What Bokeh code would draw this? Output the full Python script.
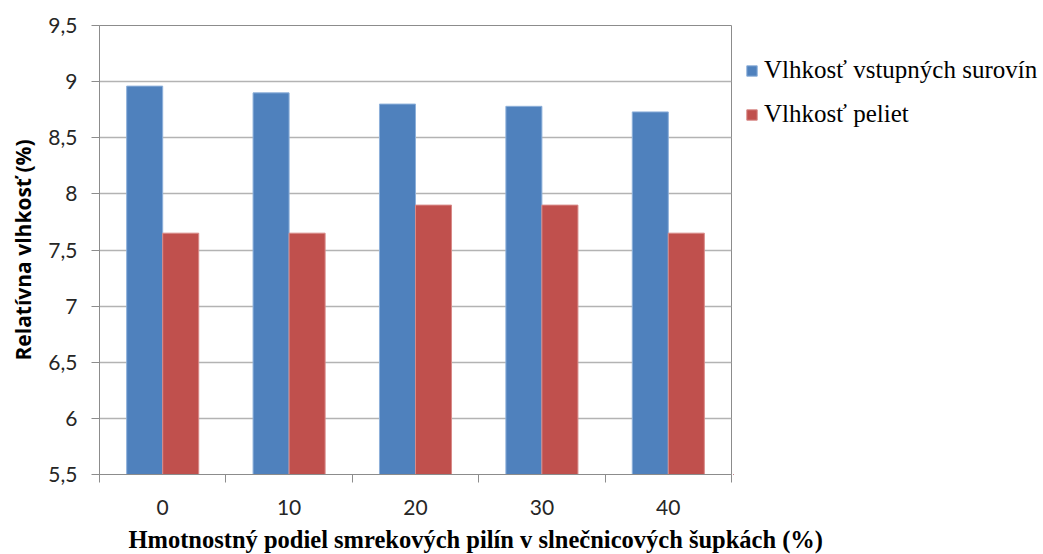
from bokeh.plotting import figure
from bokeh.layouts import row, column
from bokeh.models import (ColumnDataSource, FixedTicker, CustomJSTickFormatter,
                          Legend, LegendItem, Range1d, Label)
from bokeh.embed import file_html
from bokeh.resources import INLINE

# Sawdust share in sunflower husks (%)
categories = ["0", "10", "20", "30", "40"]
# Moisture of input raw materials (%)
moisture_raw = [8.96, 8.90, 8.80, 8.78, 8.73]
# Moisture of pellets (%)
moisture_pellets = [7.65, 7.65, 7.90, 7.90, 7.65]
y_ticks = [5.5, 6.0, 6.5, 7.0, 7.5, 8.0, 8.5, 9.0, 9.5]
series_names = ["Vlhkosť vstupných surovín", "Vlhkosť peliet"]
x_title_text = "Hmotnostný podiel smrekových pilín v slnečnicových šupkách (%)"
y_title_text = "Relatívna vlhkosť (%)"

BLUE = "#4F81BD"
RED = "#C0504D"
BLUE_EDGE = "#8DB0DA"
RED_EDGE = "#D88A88"
GRID = "#B3B3B3"
AXIS = "#8C8C8C"

TOP, BOTTOM = 25, 50  # shared borders so the row keeps both frames aligned
ROW_H = 524

idx = list(range(len(categories)))
bar_w = 0.285
src = ColumnDataSource(dict(
    x_raw=[i - bar_w / 2 for i in idx],
    x_pel=[i + bar_w / 2 for i in idx],
    raw=moisture_raw,
    pel=moisture_pellets,
))
bar_raw = dict(x="x_raw", top="raw", bottom=y_ticks[0], width=bar_w, source=src,
               fill_color=BLUE, line_color=BLUE_EDGE, line_width=1)
bar_pel = dict(x="x_pel", top="pel", bottom=y_ticks[0], width=bar_w, source=src,
               fill_color=RED, line_color=RED_EDGE, line_width=1)

# ---- main chart -------------------------------------------------------------
p = figure(width=733, height=ROW_H, output_backend="svg", toolbar_location=None,
           x_range=Range1d(-0.5, len(categories) - 0.5),
           y_range=Range1d(y_ticks[0], y_ticks[-1]),
           min_border_left=99, min_border_right=2,
           min_border_top=TOP, min_border_bottom=BOTTOM)
p.background_fill_color = "white"
p.border_fill_color = "white"
p.outline_line_color = AXIS
p.outline_line_width = 1

p.vbar(**bar_raw)
p.vbar(**bar_pel)

# y axis
p.yaxis.ticker = FixedTicker(ticks=y_ticks)
p.yaxis.formatter = CustomJSTickFormatter(code="return tick.toString().replace('.', ',');")
p.yaxis.axis_line_color = AXIS
p.yaxis.major_tick_line_color = AXIS
p.yaxis.major_tick_out = 8
p.yaxis.major_tick_in = 0
p.yaxis.minor_tick_line_color = None
p.yaxis.major_label_text_font = "Lato"
p.yaxis.major_label_text_font_size = "21px"
p.yaxis.major_label_text_color = "#262626"
p.yaxis.major_label_standoff = 14
p.yaxis.axis_label = y_title_text
p.yaxis.axis_label_text_font = "Open Sans"
p.yaxis.axis_label_text_font_style = "bold"
p.yaxis.axis_label_text_font_size = "21px"
p.yaxis.axis_label_text_color = "black"
p.yaxis.axis_label_standoff = 8

# x axis: labels at category centres, ticks between categories
p.xaxis.ticker = FixedTicker(ticks=idx, minor_ticks=[i - 0.5 for i in idx] + [idx[-1] + 0.5])
p.xaxis.major_label_overrides = {i: c for i, c in zip(idx, categories)}
p.xaxis.axis_line_color = AXIS
p.xaxis.major_tick_line_color = None
p.xaxis.minor_tick_line_color = AXIS
p.xaxis.minor_tick_out = 8
p.xaxis.minor_tick_in = 0
p.xaxis.major_label_text_font = "Lato"
p.xaxis.major_label_text_font_size = "21px"
p.xaxis.major_label_text_color = "#262626"
p.xaxis.major_label_standoff = 17

p.xgrid.grid_line_color = None
p.ygrid.grid_line_color = GRID
p.ygrid.grid_line_width = 1.5

# ---- legend panel right of the chart ---------------------------------------
# the same bar renderers are repeated here, far outside this panel's visible
# ranges, so that the legend can draw its colour swatches from them
lg = figure(width=310, height=ROW_H, output_backend="svg", toolbar_location=None,
            x_axis_type=None, y_axis_type=None,
            x_range=Range1d(100, 101), y_range=Range1d(100, 101),
            min_border_left=0, min_border_right=0,
            min_border_top=TOP, min_border_bottom=BOTTOM)
lg.outline_line_color = None
lg.background_fill_color = "white"
lg.border_fill_color = "white"
sw_raw = lg.vbar(**bar_raw)
sw_pel = lg.vbar(**bar_pel)

# bottom-left corner of the legend box, in pixels from the frame's bottom-left
legend = Legend(items=[
    LegendItem(label=series_names[0], renderers=[sw_raw]),
    LegendItem(label=series_names[1], renderers=[sw_pel]),
], location=(12, 345))
legend.label_text_font = "Liberation Serif"
legend.label_text_font_size = "25px"
legend.label_text_color = "black"
legend.glyph_width = 13
legend.glyph_height = 13
legend.label_height = 30
legend.spacing = 14
legend.padding = 0
legend.margin = 0
legend.label_standoff = 6
legend.border_line_alpha = 0
legend.background_fill_alpha = 0
lg.add_layout(legend, "center")

# ---- x axis title strip spanning the full width ----------------------------
tf = figure(width=1043, height=554 - ROW_H, output_backend="svg", toolbar_location=None,
            x_axis_type=None, y_axis_type=None,
            x_range=Range1d(0, 1), y_range=Range1d(0, 1), min_border=0)
tf.outline_line_color = None
tf.background_fill_color = "white"
tf.border_fill_color = "white"
tf.add_layout(Label(x=128, y=15, x_units="screen", y_units="screen",
                    text=x_title_text, text_font="Liberation Serif",
                    text_font_style="bold", text_font_size="24.5px",
                    text_color="black", text_baseline="middle"))

page = column(row(p, lg, spacing=0), tf, spacing=0)
open("out.html", "w").write(file_html(page, INLINE))
